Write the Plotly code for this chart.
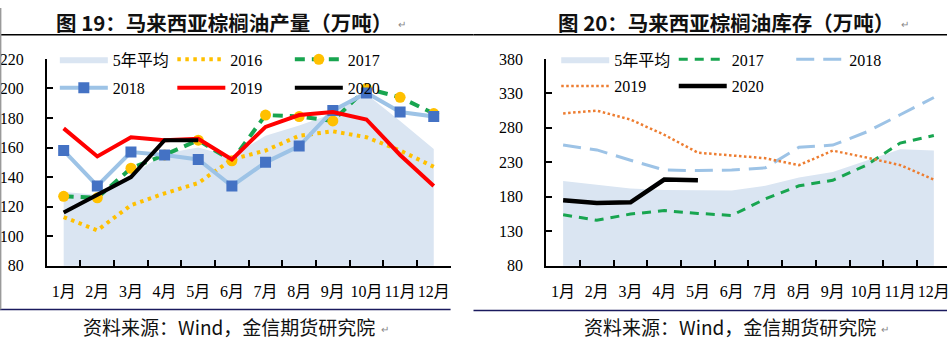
import plotly.graph_objects as go

# ---- data ----
months = ["1月", "2月", "3月", "4月", "5月", "6月", "7月", "8月", "9月", "10月", "11月", "12月"]

# Malaysia palm oil output (10k tonnes)
prod_avg5 = [130, 128, 141, 156, 160, 154, 168, 175, 183, 196, 178, 159]
prod_2016 = [113, 104, 121, 129, 136, 152, 158, 168, 171, 167, 158, 147]
prod_2017 = [127, 126, 146, 155, 165, 151, 182, 181, 178, 200, 194, 183]
prod_2018 = [158, 134, 157, 155, 152, 134, 150, 161, 185, 197, 184, 181]
prod_2019 = [173, 154, 167, 165, 166, 152, 174, 182, 184, 179, 155, 134]
prod_2020 = [116, 128, 140, 165, 165]

# Malaysia palm oil stocks (10k tonnes)
stock_avg5 = [203, 197, 192, 190, 189, 189, 196, 208, 216, 233, 249, 247]
stock_2017 = [154, 146, 155, 160, 156, 153, 177, 196, 204, 226, 258, 269]
stock_2018 = [255, 248, 233, 219, 218, 219, 222, 252, 255, 274, 299, 324]
stock_2019 = [301, 305, 292, 270, 244, 240, 236, 226, 247, 237, 226, 205]
stock_2020 = [175, 171, 172, 205, 204]

W, H = 950, 349
SERIF = "Liberation Serif, Times New Roman, Noto Sans CJK SC"
CJK = "Noto Sans CJK SC"

# ---- colours ----
AVG_FILL = "#dae5f2"
GOLD = "#ffc000"
GREEN = "#18a550"
LBLUE = "#9dc3e6"
BLUE = "#4472c4"
RED = "#ff0000"
ORANGE = "#ed7d31"

fig = go.Figure()

# ---- left panel: output ----
fig.add_trace(go.Scatter(x=months, y=prod_avg5, name="5年平均", mode="lines",
                         fill="tozeroy", fillcolor=AVG_FILL, line=dict(width=0, color=AVG_FILL),
                         xaxis="x", yaxis="y", legend="legend"))
fig.add_trace(go.Scatter(x=months, y=prod_2016, name="2016", mode="lines",
                         line=dict(color=GOLD, width=4, dash="3.5px,4.5px"),
                         xaxis="x", yaxis="y", legend="legend"))
fig.add_trace(go.Scatter(x=months, y=prod_2017, name="2017", mode="lines+markers",
                         line=dict(color=GREEN, width=4, dash="10px,7px"),
                         marker=dict(symbol="circle", size=11, color=GOLD),
                         xaxis="x", yaxis="y", legend="legend"))
fig.add_trace(go.Scatter(x=months, y=prod_2018, name="2018", mode="lines+markers",
                         line=dict(color=LBLUE, width=4),
                         marker=dict(symbol="square", size=11, color=BLUE),
                         xaxis="x", yaxis="y", legend="legend2"))
fig.add_trace(go.Scatter(x=months, y=prod_2019, name="2019", mode="lines",
                         line=dict(color=RED, width=4),
                         xaxis="x", yaxis="y", legend="legend2"))
fig.add_trace(go.Scatter(x=months[:len(prod_2020)], y=prod_2020, name="2020", mode="lines",
                         line=dict(color="black", width=4),
                         xaxis="x", yaxis="y", legend="legend2"))

# ---- right panel: stocks ----
fig.add_trace(go.Scatter(x=months, y=stock_avg5, name="5年平均", mode="lines",
                         fill="tozeroy", fillcolor=AVG_FILL, line=dict(width=0, color=AVG_FILL),
                         xaxis="x2", yaxis="y2", legend="legend3"))
fig.add_trace(go.Scatter(x=months, y=stock_2017, name="2017", mode="lines",
                         line=dict(color=GREEN, width=3, dash="9px,7px"),
                         xaxis="x2", yaxis="y2", legend="legend3"))
fig.add_trace(go.Scatter(x=months, y=stock_2018, name="2018", mode="lines",
                         line=dict(color=LBLUE, width=3, dash="18px,9px"),
                         xaxis="x2", yaxis="y2", legend="legend3"))
fig.add_trace(go.Scatter(x=months, y=stock_2019, name="2019", mode="lines",
                         line=dict(color=ORANGE, width=2.5, dash="2.5px,2.5px"),
                         xaxis="x2", yaxis="y2", legend="legend4"))
fig.add_trace(go.Scatter(x=months[:len(stock_2020)], y=stock_2020, name="2020", mode="lines",
                         line=dict(color="black", width=4.5),
                         xaxis="x2", yaxis="y2", legend="legend4"))

# ---- geometry (pixel helpers) ----
def px(x):
    return x / W

def py(y):
    return (H - y) / H

plot_top, plot_bot = 53.5, 271
ydom = [py(plot_bot), py(plot_top)]

tickfont = dict(family=SERIF, size=16, color="black")
common_x = dict(type="category", showline=True, linecolor="black", linewidth=2,
                ticks="inside", ticklen=6, tickwidth=2, tickcolor="black",
                tickson="boundaries", showgrid=False, zeroline=False, tickangle=0,
                tickfont=tickfont, ticklabelstandoff=10, fixedrange=True)
common_y = dict(showline=True, linecolor="black", linewidth=2,
                ticks="inside", ticklen=6, tickwidth=2, tickcolor="black",
                showgrid=False, zeroline=False, tickfont=tickfont,
                ticklabelstandoff=18, fixedrange=True)

fig.update_layout(
    width=W, height=H, margin=dict(l=0, r=0, t=0, b=0),
    paper_bgcolor="white", plot_bgcolor="white",
    xaxis=dict(common_x, domain=[px(47), px(452)], range=[-0.5, 11.5], anchor="y"),
    yaxis=dict(common_y, domain=ydom, range=[80, 220], tick0=80, dtick=20, anchor="x"),
    xaxis2=dict(common_x, domain=[px(548), 1.0], range=[-0.5, 11.39], anchor="y2"),
    yaxis2=dict(common_y, domain=ydom, range=[80, 380], tick0=80, dtick=50, anchor="x2"),
    showlegend=True,
)

# legend rows: column pitch = (itemwidth + 10) + entrywidth + 5
legend_style = dict(orientation="h", bgcolor="rgba(0,0,0,0)", borderwidth=0,
                    font=dict(family=SERIF, size=16, color="black"),
                    itemwidth=48, entrywidthmode="pixels", entrywidth=54.5,
                    xanchor="left", yanchor="middle", itemclick=False, itemdoubleclick=False)
fig.update_layout(
    legend=dict(legend_style, x=px(55), y=py(54)),
    legend2=dict(legend_style, x=px(55), y=py(84)),
    legend3=dict(legend_style, x=px(558), y=py(54)),
    legend4=dict(legend_style, x=px(558), y=py(82)),
)

# ---- titles, rules and source notes ----
titles = [("图 19：马来西亚棕榈油产量（万吨）", 225), ("图 20：马来西亚棕榈油库存（万吨）", 728)]
for text, cx in titles:
    fig.add_annotation(text="<b>" + text + "</b>", x=px(cx), y=py(15), xref="paper", yref="paper",
                       showarrow=False, xanchor="center", yanchor="middle",
                       font=dict(family=CJK, size=20.5, color="#111111"))

sources = [(230, "资料来源：Wind，金信期货研究院"), (732, "资料来源：Wind，金信期货研究院")]
for cx, text in sources:
    fig.add_annotation(text=text, x=px(cx), y=py(335), xref="paper", yref="paper",
                       showarrow=False, xanchor="center", yanchor="middle",
                       font=dict(family=CJK, size=19, color="#111111"))

# paragraph marks after headings and notes
for x, y in [(403, 16), (908, 16), (386, 337), (888, 337)]:
    fig.add_annotation(text="↵", x=px(x), y=py(y), xref="paper", yref="paper",
                       showarrow=False, xanchor="center", yanchor="middle",
                       font=dict(family=CJK, size=10, color="#888888"))

# heading rules
fig.add_shape(type="line", xref="paper", yref="paper", x0=0, x1=px(475), y0=py(28), y1=py(28),
              line=dict(color="black", width=1.5))
fig.add_shape(type="line", xref="paper", yref="paper", x0=px(475), x1=1, y0=py(28), y1=py(28),
              line=dict(color="black", width=1.5))
# footer rules
fig.add_shape(type="line", xref="paper", yref="paper", x0=0, x1=px(452), y0=py(317), y1=py(317),
              line=dict(color="#1a1a5e", width=1.5))
fig.add_shape(type="line", xref="paper", yref="paper", x0=px(475), x1=1, y0=py(318), y1=py(318),
              line=dict(color="#1a1a5e", width=1.5))
# page edge at left
fig.add_shape(type="line", xref="paper", yref="paper", x0=px(0.7), x1=px(0.7), y0=py(0), y1=py(317),
              line=dict(color="#9a9a9a", width=1.4))

fig.write_html("out.html")
